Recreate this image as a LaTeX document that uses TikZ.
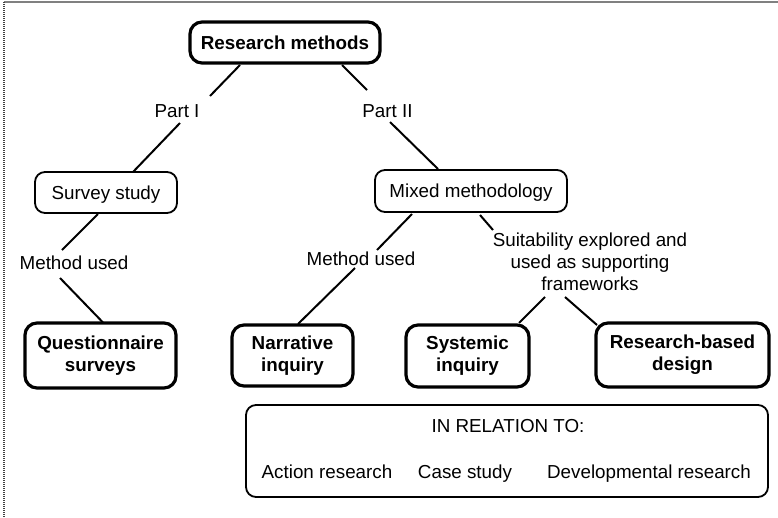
\documentclass[tikz,border=0pt]{standalone}
\usepackage{fontspec}
\setmainfont{Liberation Sans}
\usetikzlibrary{calc}
\tikzset{
  base/.style={font=\fontsize{18.8}{22}\selectfont, inner sep=0pt},
  thickbox/.style={base, draw, line width=3.2pt, rounded corners=12pt, font=\fontsize{18.8}{22}\selectfont\bfseries, align=center},
  thinbox/.style={base, draw, line width=1.8pt, rounded corners=10pt, align=center},
  oneline/.style={text height=13.5pt, text depth=0pt},
  lbl/.style={base, align=center},
  conn/.style={line width=2pt}
}
\begin{document}
\begin{tikzpicture}[x=1pt,y=-1pt]
\useasboundingbox (0,0) rectangle (778,517);
% frame
\draw[gray, line width=1.8pt] (4,2) -- (778,2);
\draw[black!75, line width=1.3pt, dash pattern=on 1.2pt off 0.8pt] (4,2) -- (4,517);
% nodes
\node[thickbox, oneline, minimum width=190pt, minimum height=41pt] (rm) at (285,42.5) {Research methods};
\node[lbl, oneline] (p1) at (177,110.5) {Part I};
\node[lbl, oneline] (p2) at (387.5,110.5) {Part II};
\node[thinbox, oneline, minimum width=142pt, minimum height=41pt] (survey) at (106,192.5) {Survey study};
\node[thinbox, oneline, minimum width=192pt, minimum height=42pt] (mixed) at (471,191) {Mixed methodology};
\node[lbl, oneline] (mu1) at (74,263) {Method used};
\node[lbl, oneline] (mu2) at (361,259) {Method used};
\node[lbl] (suit) at (590,262) {Suitability explored and\\used as supporting\\frameworks};
\node[thickbox, minimum width=151pt, minimum height=65pt] (quest) at (100.5,355.5) {Questionnaire\\surveys};
\node[thickbox, minimum width=121pt, minimum height=61pt] (narr) at (292.5,355.5) {Narrative\\inquiry};
\node[thickbox, minimum width=123pt, minimum height=62pt] (sys) at (467.5,356) {Systemic\\inquiry};
\node[thickbox, minimum width=173pt, minimum height=64pt] (rbd) at (682.5,355) {Research-based\\design};
\node[thinbox, minimum width=522pt, minimum height=92pt] (rel) at (507,451) {};
\node[lbl, oneline] (relt) at (508,426) {IN RELATION TO:};
\node[lbl, oneline] (a1) at (327,472) {Action research};
\node[lbl, oneline] (a2) at (465,472) {Case study};
\node[lbl, oneline] (a3) at (649,472) {Developmental research};
% connectors
\draw[conn] ($(rm)+(-45,22.5)$) -- ($(p1)+(33,-14.5)$);
\draw[conn] ($(p1)+(3,12.5)$) -- ($(survey)+(27,-20.5)$);
\draw[conn] ($(rm)+(57,22.5)$) -- ($(p2)+(-20.5,-20.5)$);
\draw[conn] ($(p2)+(2.5,11.5)$) -- ($(mixed)+(-33,-22)$);
\draw[conn] ($(mixed)+(-59,23)$) -- ($(mu2)+(16,-9)$);
\draw[conn] ($(mu2)+(-6,9)$) -- ($(narr)+(5.5,-31.5)$);
\draw[conn] ($(survey)+(-8,21.5)$) -- ($(mu1)+(-12,-13)$);
\draw[conn] ($(mu1)+(-14,15)$) -- ($(quest)+(2.5,-33)$);
\draw[conn] ($(mixed)+(9,24)$) -- ($(suit)+(-97,-32)$);
\draw[conn] ($(suit)+(-45,35)$) -- ($(sys)+(51.5,-33)$);
\draw[conn] ($(suit)+(-25,35)$) -- ($(rbd)+(-85.5,-30)$);
\end{tikzpicture}
\end{document}
